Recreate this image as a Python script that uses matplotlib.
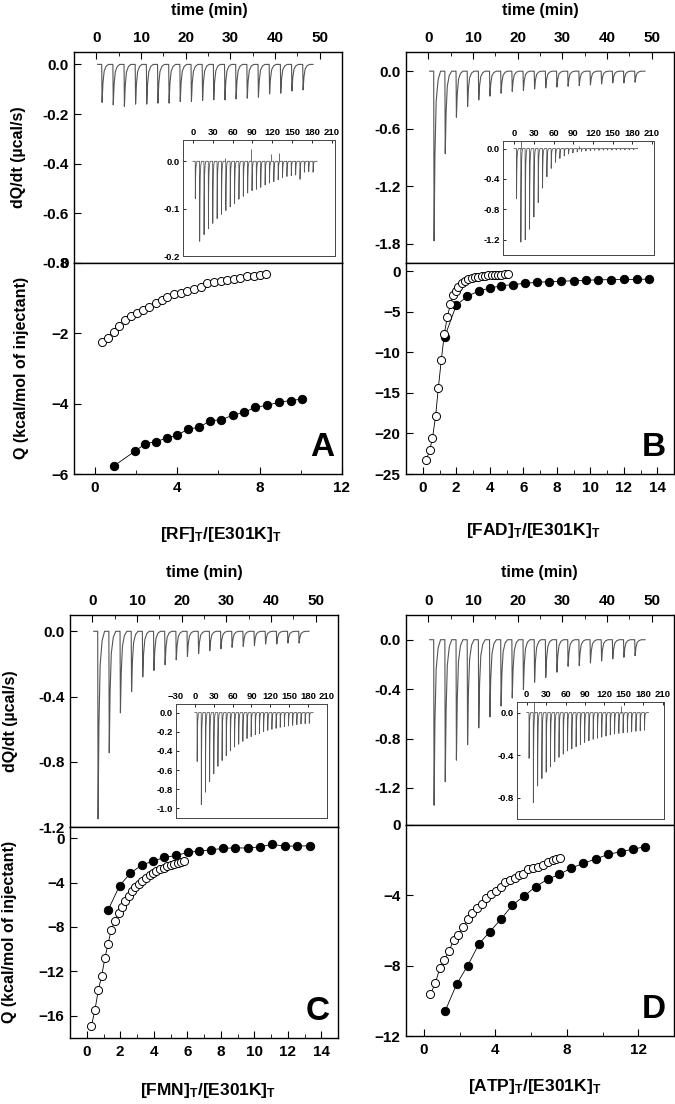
import numpy as np
import matplotlib
matplotlib.use("Agg")
import matplotlib.pyplot as plt
from matplotlib.ticker import MultipleLocator, FixedLocator

plt.rcParams['font.family'] = ['Liberation Sans', 'DejaVu Sans']
plt.rcParams['font.weight'] = 'bold'
plt.rcParams['mathtext.fontset'] = 'custom'
plt.rcParams['mathtext.rm'] = 'Liberation Sans:bold'
plt.rcParams['mathtext.it'] = 'Liberation Sans:bold'
plt.rcParams['mathtext.bf'] = 'Liberation Sans:bold'
plt.rcParams['axes.linewidth'] = 1.0

# ---- raw thermograms (main panels), injection times in min, peak heights in ucal/s
main_inj_time = [1.2, 3.7, 6.2, 8.7, 11.2, 13.7, 16.2, 18.7, 21.2, 23.7,
                 26.2, 28.7, 31.2, 33.7, 36.2, 38.7, 41.2, 43.7, 46.2]
rf_peak = [-0.153, -0.163, -0.169, -0.160, -0.160, -0.156, -0.156, -0.149, -0.149, -0.145,
           -0.143, -0.143, -0.139, -0.136, -0.132, -0.119, -0.116, -0.107, -0.103]
fad_peak = [-1.77, -0.86, -0.48, -0.37, -0.30, -0.26, -0.23, -0.21, -0.20, -0.185,
            -0.175, -0.165, -0.157, -0.150, -0.143, -0.133, -0.122, -0.122, -0.115]
fmn_peak = [-1.15, -0.745, -0.50, -0.37, -0.28, -0.24, -0.205, -0.175, -0.154, -0.137,
            -0.119, -0.107, -0.098, -0.092, -0.086, -0.078, -0.078, -0.072, -0.072]
atp_peak = [-1.34, -1.15, -0.975, -0.85, -0.714, -0.625, -0.537, -0.472, -0.403, -0.344,
            -0.306, -0.263, -0.215, -0.209, -0.188, -0.172, -0.156, -0.142, -0.129]

# ---- inset thermograms
inset_inj_time = [3.5, 10.1, 16.7, 23.3, 29.9, 36.5, 43.1, 49.7, 56.3, 62.9,
                  69.5, 76.1, 82.7, 89.3, 95.9, 102.5, 109.1, 115.7, 122.3, 128.9,
                  135.5, 142.1, 148.7, 155.3, 161.9, 168.5, 175.1, 181.7]
rf_inset_peak = [-0.079, -0.169, -0.155, -0.142, -0.131, -0.121, -0.112, -0.104, -0.096, -0.089,
                 -0.080, -0.074, -0.067, -0.062, -0.059, -0.055, -0.050, -0.046, -0.043, -0.039,
                 -0.034, -0.032, -0.030, -0.029, -0.038, -0.023, -0.022, -0.023]
fad_inset_peak = [-0.66, -1.23, -1.20, -1.06, -0.90, -0.71, -0.52, -0.37, -0.26, -0.18,
                  -0.13, -0.096, -0.070, -0.057, -0.044, -0.035, -0.031, -0.026, -0.022, -0.022,
                  -0.020, -0.020, -0.018, -0.018, -0.017, -0.016, -0.015, -0.015]
fmn_inset_peak = [-0.51, -0.96, -0.83, -0.72, -0.64, -0.56, -0.50, -0.45, -0.40, -0.36,
                  -0.33, -0.30, -0.27, -0.25, -0.23, -0.22, -0.20, -0.185, -0.174, -0.164,
                  -0.153, -0.146, -0.139, -0.132, -0.125, -0.118, -0.115, -0.111]
atp_inset_peak = [-0.43, -0.845, -0.69, -0.62, -0.56, -0.51, -0.46, -0.42, -0.39, -0.36,
                  -0.34, -0.32, -0.30, -0.28, -0.265, -0.25, -0.24, -0.23, -0.22, -0.21,
                  -0.20, -0.195, -0.19, -0.185, -0.18, -0.175, -0.17, -0.165]
rf_spike_t = [48.6, 88.5, 118.0, 131.0]
rf_spike_h = [0.008, 0.025, 0.015, 0.017]
fad_spike_t = [10.0, 98.0]
fad_spike_h = [0.10, 0.03]
atp_spike_t = [11.0, 146.0]
atp_spike_h = [0.12, 0.06]

# ---- integrated heats (kcal/mol of injectant)
rf_open_x = [0.37, 0.64, 0.93, 1.20, 1.49, 1.78, 2.06, 2.36, 2.65, 2.97, 3.26, 3.53, 3.86, 4.18,
             4.50, 4.82, 5.14, 5.46, 5.78, 6.11, 6.43, 6.75, 7.07, 7.39, 7.71, 8.03, 8.32]
rf_open_q = [-2.25, -2.14, -1.95, -1.79, -1.62, -1.51, -1.41, -1.34, -1.24, -1.13, -1.05, -0.96,
             -0.89, -0.84, -0.79, -0.74, -0.67, -0.58, -0.55, -0.51, -0.49, -0.46, -0.43, -0.37,
             -0.37, -0.35, -0.32]
rf_fill_x = [0.96, 1.96, 2.46, 2.97, 3.49, 4.02, 4.55, 5.08, 5.62, 6.15, 6.72, 7.26, 7.79, 8.35,
             8.95, 9.51, 10.07]
rf_fill_q = [-5.76, -5.35, -5.14, -5.08, -4.98, -4.89, -4.72, -4.67, -4.48, -4.46, -4.32, -4.25,
             -4.10, -4.05, -3.96, -3.91, -3.87]

fad_open_x = [0.22, 0.42, 0.58, 0.77, 0.93, 1.11, 1.29, 1.47, 1.65, 1.80, 1.96, 2.12, 2.32, 2.52,
              2.72, 2.92, 3.11, 3.31, 3.51, 3.71, 3.91, 4.11, 4.30, 4.50, 4.70, 4.90, 5.10]
fad_open_q = [-23.25, -21.99, -20.6, -17.8, -14.4, -10.9, -7.7, -5.6, -4.1, -3.0, -2.4, -1.9,
              -1.5, -1.22, -1.0, -0.9, -0.77, -0.7, -0.6, -0.57, -0.53, -0.49, -0.49, -0.45,
              -0.45, -0.4, -0.37]
fad_fill_x = [1.31, 2.00, 2.66, 3.35, 4.01, 4.70, 5.40, 6.09, 6.83, 7.56, 8.27, 9.01, 9.74,
              10.49, 11.25, 12.00, 12.78, 13.53]
fad_fill_q = [-8.1, -4.2, -3.1, -2.44, -2.1, -1.79, -1.67, -1.50, -1.38, -1.30, -1.26, -1.18,
              -1.14, -1.06, -1.06, -1.02, -1.02, -0.98]

fmn_open_x = [0.28, 0.49, 0.69, 0.89, 1.09, 1.27, 1.46, 1.68, 1.90, 2.10, 2.29, 2.51, 2.71, 2.91,
              3.11, 3.30, 3.54, 3.76, 3.96, 4.15, 4.37, 4.59, 4.79, 5.01, 5.20, 5.42, 5.62, 5.82]
fmn_open_q = [-16.9, -15.46, -13.7, -12.4, -10.76, -9.53, -8.27, -7.43, -6.77, -6.2, -5.66,
              -5.21, -4.79, -4.40, -4.10, -3.84, -3.6, -3.36, -3.15, -2.97, -2.79, -2.67, -2.55,
              -2.43, -2.31, -2.22, -2.16, -2.10]
fmn_fill_x = [1.27, 1.96, 2.61, 3.28, 3.96, 4.63, 5.34, 6.03, 6.72, 7.42, 8.15, 8.86, 9.60,
              10.33, 11.08, 11.81, 12.56, 13.34]
fmn_fill_q = [-6.5, -4.28, -3.15, -2.43, -2.07, -1.74, -1.56, -1.29, -1.17, -1.05, -0.93, -0.87,
              -0.90, -0.78, -0.57, -0.72, -0.72, -0.69]

atp_open_x = [0.37, 0.65, 0.89, 1.14, 1.42, 1.66, 1.92, 2.20, 2.45, 2.71, 2.97, 3.23, 3.49, 3.76,
              4.02, 4.30, 4.56, 4.83, 5.09, 5.35, 5.54, 5.81, 6.11, 6.37, 6.64, 6.96, 7.23, 7.42,
              7.60]
atp_open_q = [-9.63, -8.97, -8.15, -7.68, -7.15, -6.54, -6.24, -5.78, -5.36, -5.02, -4.74, -4.49,
              -4.17, -3.92, -3.73, -3.55, -3.22, -3.13, -3.0, -2.84, -2.79, -2.52, -2.46, -2.37,
              -2.27, -2.09, -1.99, -1.93, -1.86]
atp_fill_x = [1.20, 1.83, 2.45, 3.08, 3.69, 4.32, 4.96, 5.61, 6.25, 6.92, 7.58, 8.25, 8.93, 9.63,
              10.31, 11.01, 11.70, 12.40]
atp_fill_q = [-10.56, -9.06, -8.0, -6.77, -6.07, -5.35, -4.55, -4.04, -3.51, -3.09, -2.81, -2.45,
              -2.18, -1.93, -1.67, -1.52, -1.38, -1.23]

W, H = 675, 1104
fig = plt.figure(figsize=(W / 100, H / 100), dpi=100)


def box(l, t, r, b):
    return [l / W, 1 - b / H, (r - l) / W, (b - t) / H]


shape_dt = [0, 0.08, 0.25, 0.5, 0.9, 1.4]
shape_f = [0, 1, 0.5, 0.18, 0.05, 0]


def trace(ax, times, peaks, t0, t1, width, lw):
    tt, yy = [t0], [0.0]
    for t, p in zip(times, peaks):
        for dt, f in zip(shape_dt, shape_f):
            tt.append(t + dt * width)
            yy.append(p * f)
    tt.append(t1)
    yy.append(0.0)
    ax.plot(tt, yy, color='#555555', lw=lw)


def top_panel(b, peaks, ylim, yticks, ylabels):
    ax = fig.add_axes(box(*b))
    trace(ax, main_inj_time, peaks, 0.3, 48.5, 1.1, 0.8)
    ax.set_xlim(-5, 55)
    ax.set_ylim(*ylim)
    ax.xaxis.set_major_locator(MultipleLocator(10))
    ax.xaxis.set_minor_locator(MultipleLocator(5))
    ax.xaxis.tick_top()
    ax.set_yticks(yticks)
    ax.set_yticklabels(ylabels)
    ax.tick_params(axis='x', which='both', direction='in', top=True, bottom=False,
                   labelsize=11, pad=5)
    ax.tick_params(axis='x', which='major', length=5)
    ax.tick_params(axis='x', which='minor', length=3)
    ax.tick_params(axis='y', direction='in', length=5, labelsize=11, pad=4)
    return ax


def bottom_panel(b, xlim, ylim, xmaj, xmin, yticks, ox, oq, fx, fq, letter):
    ax = fig.add_axes(box(*b))
    ax.plot(fx, fq, '-', color='black', lw=0.6, zorder=2)
    ax.plot(ox, oq, '-', color='black', lw=0.6, zorder=2)
    ax.plot(fx, fq, 'o', ms=6, mfc='black', mec='black', mew=0.7, zorder=3)
    ax.plot(ox, oq, 'o', ms=5.8, mfc='white', mec='black', mew=0.7, zorder=4)
    ax.set_xlim(*xlim)
    ax.set_ylim(*ylim)
    ax.xaxis.set_major_locator(MultipleLocator(xmaj))
    ax.xaxis.set_minor_locator(MultipleLocator(xmin))
    ax.set_yticks(yticks)
    ax.tick_params(axis='x', which='both', direction='in', labelsize=11, pad=5)
    ax.tick_params(axis='x', which='major', length=5)
    ax.tick_params(axis='x', which='minor', length=3)
    ax.tick_params(axis='y', direction='in', length=5, labelsize=11, pad=4)
    ax.text(0.97, 0.05, letter, transform=ax.transAxes, ha='right', va='bottom',
            fontsize=24, fontweight='bold')
    return ax


def inset(b, peaks, xlim, xticks, ylim, yticks, ylabels, st=None, sh=None):
    ax = fig.add_axes(box(*b))
    trace(ax, inset_inj_time, peaks, 0.0, 188.0, 2.0, 0.6)
    if st:
        ax.vlines(st, 0, sh, color='#555555', lw=0.6)
    ax.set_xlim(*xlim)
    ax.set_ylim(*ylim)
    ax.set_xticks(xticks)
    ax.xaxis.tick_top()
    ax.set_yticks(yticks)
    ax.set_yticklabels(ylabels)
    ax.tick_params(axis='both', direction='in', length=2.5, labelsize=6.8, pad=2, width=0.6)
    for s in ax.spines.values():
        s.set_linewidth(0.7)
        s.set_color('#444444')
    return ax


inset_x = [0, 30, 60, 90, 120, 150, 180, 210]

# A : RF
top_panel((74, 52, 342, 263), rf_peak, (-0.8, 0.05),
          [0.0, -0.2, -0.4, -0.6, -0.8], ['0.0', '-0.2', '-0.4', '-0.6', '-0.8'])
bottom_panel((74, 263, 342, 474), (-1, 12), (-6, 0), 4, 2, [0, -2, -4, -6],
             rf_open_x, rf_open_q, rf_fill_x, rf_fill_q, 'A')
inset((183, 140, 335, 256), rf_inset_peak, (-15, 215), inset_x, (-0.2, 0.045),
      [0.0, -0.1, -0.2], ['0.0', '-0.1', '-0.2'], rf_spike_t, rf_spike_h)

# B : FAD
top_panel((406, 52, 674, 263), fad_peak, (-2.0, 0.2),
          [0.0, -0.6, -1.2, -1.8], ['0.0', '-0.6', '-1.2', '-1.8'])
bottom_panel((406, 263, 674, 474), (-1, 15), (-25, 1), 2, 1, [0, -5, -10, -15, -20, -25],
             fad_open_x, fad_open_q, fad_fill_x, fad_fill_q, 'B')
inset((503, 141, 654, 255), fad_inset_peak, (-17, 213), inset_x, (-1.4, 0.1),
      [0.0, -0.4, -0.8, -1.2], ['0.0', '-0.4', '-0.8', '-1.2'], fad_spike_t, fad_spike_h)

# C : FMN
top_panel((70, 615, 338, 827), fmn_peak, (-1.2, 0.1),
          [0.0, -0.4, -0.8, -1.2], ['0.0', '-0.4', '-0.8', '-1.2'])
bottom_panel((70, 827, 338, 1038), (-1, 15), (-18, 1), 2, 1, [0, -4, -8, -12, -16],
             fmn_open_x, fmn_open_q, fmn_fill_x, fmn_fill_q, 'C')
inset((176, 704, 327, 818), fmn_inset_peak, (-30, 210), [-30] + inset_x, (-1.1, 0.09),
      [0.0, -0.2, -0.4, -0.6, -0.8, -1.0], ['0.0', '-0.2', '-0.4', '-0.6', '-0.8', '-1.0'])

# D : ATP
top_panel((406, 615, 674, 825), atp_peak, (-1.5, 0.2),
          [0.0, -0.4, -0.8, -1.2], ['0.0', '-0.4', '-0.8', '-1.2'])
bottom_panel((406, 825, 674, 1036), (-1, 14), (-12, 0), 4, 2, [0, -4, -8, -12],
             atp_open_x, atp_open_q, atp_fill_x, atp_fill_q, 'D')
inset((517, 702, 664, 819), atp_inset_peak, (-15, 212), inset_x, (-1.0, 0.1),
      [0.0, -0.4, -0.8], ['0.0', '-0.4', '-0.8'], atp_spike_t, atp_spike_h)


def ftext(x, y, s, **kw):
    fig.text(x / W, 1 - y / H, s, ha='center', va='center', fontweight='bold', **kw)


for x, y in [(209, 11), (540, 11), (204, 573), (539, 572)]:
    ftext(x, y, 'time (min)', fontsize=11.5)

ftext(19, 157, r'dQ/dt (µcal/s)', fontsize=11.5, rotation=90)
ftext(22, 368, 'Q (kcal/mol of injectant)', fontsize=11.5, rotation=90)
ftext(11, 721, r'dQ/dt (µcal/s)', fontsize=11.5, rotation=90)
ftext(10, 932, 'Q (kcal/mol of injectant)', fontsize=11.5, rotation=90)

ftext(221, 535, r'[RF]$_\mathrm{T}$/[E301K]$_\mathrm{T}$', fontsize=12.5)
ftext(533, 530, r'[FAD]$_\mathrm{T}$/[E301K]$_\mathrm{T}$', fontsize=12.5)
ftext(208, 1090, r'[FMN]$_\mathrm{T}$/[E301K]$_\mathrm{T}$', fontsize=12.5)
ftext(535, 1087, r'[ATP]$_\mathrm{T}$/[E301K]$_\mathrm{T}$', fontsize=12.5)

fig.savefig('out.png', dpi=100)
